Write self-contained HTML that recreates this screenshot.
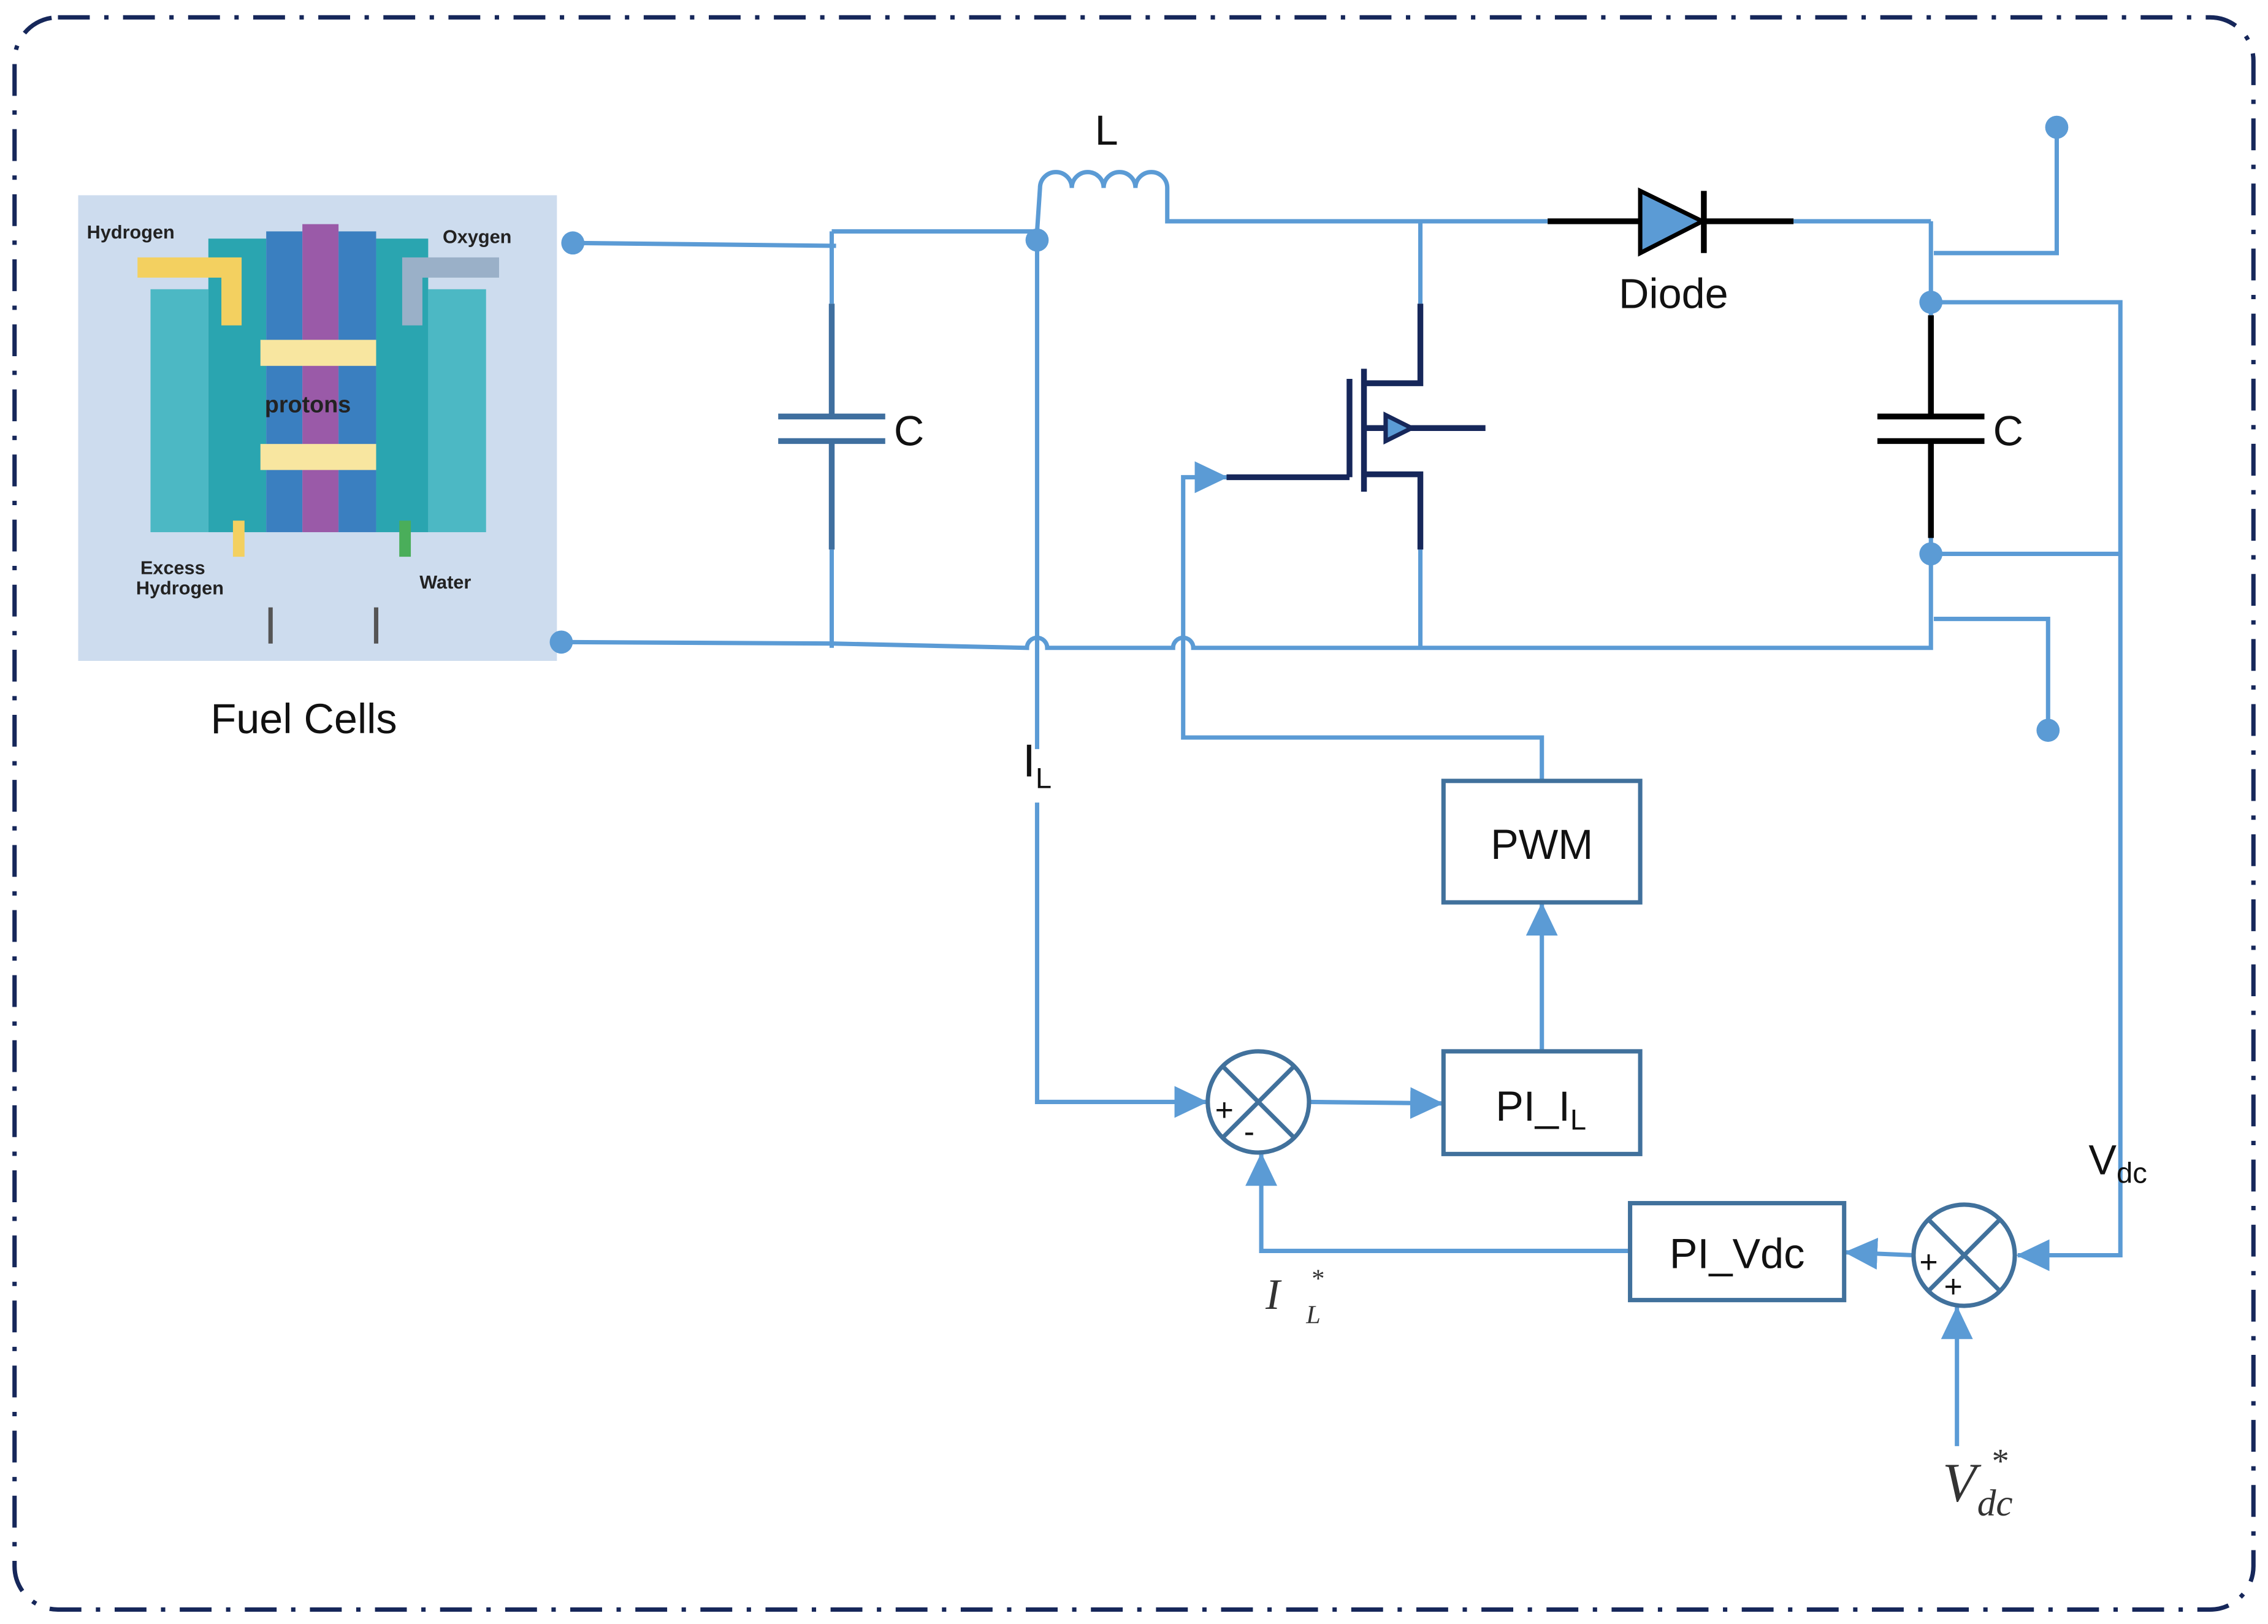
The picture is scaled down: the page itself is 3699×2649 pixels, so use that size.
<!DOCTYPE html>
<html><head><meta charset="utf-8"><style>html,body{margin:0;padding:0;background:#fff}svg{display:block}</style></head><body>
<svg width="3699" height="2649" viewBox="0 0 1568 1123" xmlns="http://www.w3.org/2000/svg" font-family="Liberation Sans, sans-serif">
<defs>
<marker id="a" markerWidth="10" markerHeight="10" refX="9" refY="5" orient="auto" markerUnits="userSpaceOnUse"><path d="M0,0 L10,5 L0,10 z" fill="#5b9bd5"/></marker>
<marker id="b" markerWidth="24" markerHeight="24" refX="22" refY="12" orient="auto" markerUnits="userSpaceOnUse"><path d="M0,1 L23,12 L0,23 z" fill="#5b9bd5"/></marker>
</defs>
<rect x="10" y="12" width="1548" height="1101" rx="30" fill="none" stroke="#16275a" stroke-width="3" stroke-dasharray="22,10,3,10"/>
<!-- fuel cell picture -->
<rect x="54" y="135" width="331" height="322" fill="#cddcee"/>
<rect x="104" y="200" width="40" height="168" fill="#4cb8c4"/>
<rect x="296" y="200" width="40" height="168" fill="#4cb8c4"/>
<rect x="144" y="165" width="40" height="203" fill="#2aa5b0"/>
<rect x="260" y="165" width="36" height="203" fill="#2aa5b0"/>
<rect x="184" y="160" width="25" height="208" fill="#3a7fc0"/>
<rect x="209" y="155" width="25" height="213" fill="#9a5aa8"/>
<rect x="234" y="160" width="26" height="208" fill="#3a7fc0"/>
<rect x="180" y="235" width="80" height="18" fill="#f8e6a0"/>
<rect x="180" y="307" width="80" height="18" fill="#f8e6a0"/>
<path d="M95,185 L160,185 L160,225" stroke="#f3d060" stroke-width="14" fill="none"/>
<path d="M345,185 L285,185 L285,225" stroke="#9ab0c8" stroke-width="14" fill="none"/>
<path d="M165,360 L165,385" stroke="#f3d060" stroke-width="8"/>
<path d="M280,360 L280,385" stroke="#4aae5a" stroke-width="8"/>
<text x="60" y="165" font-size="13" font-weight="bold" fill="#222">Hydrogen</text>
<text x="306" y="168" font-size="13" font-weight="bold" fill="#222">Oxygen</text>
<text x="183" y="285" font-size="16" font-weight="bold" fill="#222">protons</text>
<text x="97" y="397" font-size="13" font-weight="bold" fill="#222">Excess</text>
<text x="94" y="411" font-size="13" font-weight="bold" fill="#222">Hydrogen</text>
<text x="290" y="407" font-size="13" font-weight="bold" fill="#222">Water</text>
<line x1="187" y1="420" x2="187" y2="445" stroke="#555" stroke-width="3"/>
<line x1="260" y1="420" x2="260" y2="445" stroke="#555" stroke-width="3"/>
<text x="210" y="507" font-size="29" text-anchor="middle" fill="#111">Fuel Cells</text>
<g stroke="#5b9bd5" stroke-width="3" fill="none">
<line x1="396" y1="168" x2="578" y2="170"/>
<line x1="575" y1="160" x2="717" y2="160"/>
<line x1="575" y1="160" x2="575" y2="210"/>
<line x1="575" y1="380" x2="575" y2="448"/>
<path d="M717,160 L719,130 a11,11 0 0 1 22,0 a11,11 0 0 1 22,0 a11,11 0 0 1 22,0 a11,11 0 0 1 22,0 L807,153 L1070,153"/>
<line x1="1240" y1="153" x2="1335" y2="153"/>
<line x1="1335" y1="153" x2="1335" y2="218"/>
<path d="M1337,175 L1422,175 L1422,88"/>
<line x1="982" y1="153" x2="982" y2="210"/>
<line x1="982" y1="380" x2="982" y2="448"/>
<path d="M388,444 L575,445 L710,448 a7,7 0 0 1 14,0 L811,448 a7,7 0 0 1 14,0 L1335,448 L1335,372"/>
<path d="M1335,209 L1466,209 L1466,868 L1395,868" marker-end="url(#b)"/>
<line x1="1335" y1="383" x2="1466" y2="383"/>
<path d="M1337,428 L1416,428 L1416,505"/>
<line x1="717" y1="166" x2="717" y2="518"/>
<path d="M717,555 L717,762 L834,762" marker-end="url(#b)"/>
<path d="M906,762 L997,763" marker-end="url(#b)"/>
<path d="M1066,727 L1066,625" marker-end="url(#b)"/>
<path d="M1066,540 L1066,510 L818,510 L818,330 L848,330" marker-end="url(#b)"/>
<path d="M1127,865 L872,865 L872,798" marker-end="url(#b)"/>
<path d="M1323,868 L1276,866" marker-end="url(#b)"/>
<path d="M1353,1000 L1353,904" marker-end="url(#b)"/>
</g>
<g fill="#5b9bd5"><circle cx="396" cy="168" r="8"/><circle cx="388" cy="444" r="8"/><circle cx="717" cy="166" r="8"/><circle cx="1422" cy="88" r="8"/><circle cx="1335" cy="209" r="8"/><circle cx="1335" cy="383" r="8"/><circle cx="1416" cy="505" r="8"/></g>
<!-- left cap -->
<g stroke="#3f6f9f" stroke-width="4"><line x1="575" y1="210" x2="575" y2="288"/><line x1="575" y1="305" x2="575" y2="380"/><line x1="538" y1="288" x2="612" y2="288"/><line x1="538" y1="305" x2="612" y2="305"/></g>
<text x="618" y="308" font-size="29" fill="#111">C</text>
<!-- right cap -->
<g stroke="#000" stroke-width="4"><line x1="1335" y1="218" x2="1335" y2="288"/><line x1="1335" y1="305" x2="1335" y2="372"/><line x1="1298" y1="288" x2="1372" y2="288"/><line x1="1298" y1="305" x2="1372" y2="305"/></g>
<text x="1378" y="308" font-size="29" fill="#111">C</text>
<text x="765" y="100" font-size="29" text-anchor="middle" fill="#111">L</text>
<!-- diode -->
<g stroke="#000" stroke-width="4"><line x1="1070" y1="153" x2="1135" y2="153"/><line x1="1178" y1="153" x2="1240" y2="153"/><line x1="1178" y1="132" x2="1178" y2="175"/></g>
<path d="M1134,132 L1177,153 L1134,175 z" fill="#5b9bd5" stroke="#000" stroke-width="3"/>
<text x="1157" y="213" font-size="29" text-anchor="middle" fill="#111">Diode</text>
<!-- mosfet -->
<g stroke="#16275a" stroke-width="4" fill="none">
<path d="M982,210 L982,265 L943,265"/><path d="M982,380 L982,328 L943,328"/>
<line x1="943" y1="255" x2="943" y2="340"/><line x1="933" y1="262" x2="933" y2="330"/>
<line x1="848" y1="330" x2="933" y2="330"/>
<line x1="943" y1="296" x2="1027" y2="296"/>
</g>
<path d="M958,287 L976,296 L958,305 z" fill="#5b9bd5" stroke="#16275a" stroke-width="3"/>
<!-- blocks -->
<g fill="#fff" stroke="#41719c" stroke-width="3">
<rect x="998" y="540" width="136" height="84"/><rect x="998" y="727" width="136" height="71"/><rect x="1127" y="832" width="148" height="67"/>
<circle cx="870" cy="762" r="35"/><circle cx="1358" cy="868" r="35"/>
</g>
<g stroke="#41719c" stroke-width="3"><line x1="845" y1="737" x2="895" y2="787"/><line x1="895" y1="737" x2="845" y2="787"/><line x1="1333" y1="843" x2="1383" y2="893"/><line x1="1383" y1="843" x2="1333" y2="893"/></g>
<text x="840" y="775" font-size="22" fill="#111">+</text><text x="860" y="790" font-size="22" fill="#111">-</text>
<text x="1327" y="880" font-size="22" fill="#111">+</text><text x="1344" y="897" font-size="22" fill="#111">+</text>
<text x="1066" y="594" font-size="29" text-anchor="middle" fill="#111">PWM</text>
<text x="1034" y="775" font-size="29" fill="#111">PI_I<tspan font-size="20" dy="6">L</tspan></text>
<text x="1201" y="877" font-size="29" text-anchor="middle" fill="#111">PI_Vdc</text>
<text x="707" y="537" font-size="32" fill="#111">I<tspan font-size="20" dy="8">L</tspan></text>
<text x="1444" y="812" font-size="29" fill="#111">V<tspan font-size="20" dy="6">dc</tspan></text>
<g font-family="Liberation Serif, serif" font-style="italic" fill="#333">
<text x="875" y="905" font-size="30">I</text><text x="903" y="915" font-size="18">L</text><text x="906" y="890" font-size="18">*</text>
<text x="1343" y="1038" font-size="38">V</text><text x="1367" y="1048" font-size="26">dc</text><text x="1376" y="1018" font-size="24">*</text>
</g>
</svg>
</body></html>
